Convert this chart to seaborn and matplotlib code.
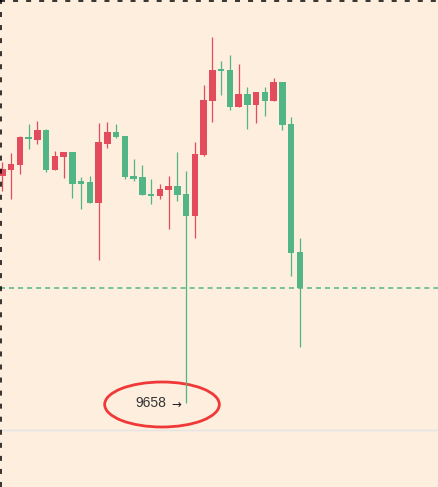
import matplotlib
matplotlib.use("Agg")
import matplotlib.pyplot as plt
import seaborn as sns
import numpy as np
from matplotlib.patches import Ellipse
from matplotlib.lines import Line2D

# OHLC (red = up, green = down)
opens = [9885, 9891, 9896, 9924, 9921, 9931, 9891, 9904, 9909, 9880,
         9879, 9858, 9917, 9929, 9925, 9885, 9884, 9867, 9865, 9871,
         9875, 9867, 9845, 9906, 9960, 9992, 9991, 9954, 9967, 9956,
         9969, 9960, 9979, 9937, 9809]
highs = [9899, 9908, 9925, 9937, 9940, 9932, 9910, 9909, 9909, 9884,
         9885, 9938, 9939, 9937, 9925, 9902, 9896, 9882, 9877, 9885,
         9909, 9890, 9919, 9976, 10024, 10000, 10006, 9997, 9974, 9969,
         9974, 9983, 9979, 9944, 9823]
lows = [9870, 9862, 9887, 9912, 9917, 9889, 9891, 9883, 9863, 9852,
        9858, 9801, 9913, 9923, 9882, 9880, 9866, 9857, 9862, 9832,
        9860, 9658, 9823, 9905, 9939, 9966, 9951, 9954, 9932, 9938,
        9945, 9960, 9931, 9785, 9714]
closes = [9892, 9897, 9924, 9922, 9931, 9891, 9905, 9909, 9877, 9877,
          9858, 9919, 9929, 9924, 9884, 9882, 9866, 9865, 9872, 9875,
          9866, 9845, 9907, 9961, 9991, 9990, 9954, 9967, 9956, 9969,
          9960, 9979, 9936, 9808, 9773]

BG = "#fdeedd"
UP = "#e34c5c"
DOWN = "#52b586"

sns.set_style("white", {"axes.facecolor": BG, "figure.facecolor": BG})
plt.rcParams["font.family"] = ["Liberation Sans", "DejaVu Sans"]
plt.rcParams["lines.scale_dashes"] = False

fig = plt.figure(figsize=(4.39, 4.87), dpi=100)
ax = fig.add_axes([0, 57 / 487, 1, 430 / 487])

x = np.arange(len(opens))
o, h, l, c = map(np.array, (opens, highs, lows, closes))
colors = np.where(c >= o, UP, DOWN)

ax.vlines(x, l, h, colors=colors, linewidth=0.9)
ax.bar(x, np.abs(c - o), bottom=np.minimum(o, c), width=0.74,
       color=colors, linewidth=0)

# last price line
ax.axhline(closes[-1], color=DOWN, lw=1.1, linestyle=(0, (3.6, 2.9)))

# lowest low marker
idx = int(np.argmin(l))
ax.text(idx - 2.3, l[idx], f"{l[idx]:.0f}", ha="right", va="center",
        fontsize=10, color="#333333")
ax.text(idx - 0.55, l[idx] - 1, "→", ha="right", va="center",
        fontsize=8.5, color="#222222", family="DejaVu Sans")
ax.add_patch(Ellipse((idx - 2.75, l[idx] - 1.5), width=13.1, height=45,
                     fill=False, edgecolor="#f03838", lw=2))

ax.set_xlim(-0.26, 49.9)
ax.set_ylim(9631, 10061)
ax.set_xticks([])
ax.set_yticks([])
for side in ["top", "left", "right"]:
    ax.spines[side].set_visible(False)
ax.spines["bottom"].set_color("#e3e3e8")
ax.spines["bottom"].set_linewidth(1)

# dashed border on the left and top of the image
fig.add_artist(Line2D([0.6 / 439] * 2, [0, 1], transform=fig.transFigure,
                      color="black", lw=1.1, linestyle=(0, (3.6, 5.8))))
fig.add_artist(Line2D([0, 1], [1 - 0.5 / 487] * 2, transform=fig.transFigure,
                      color="black", lw=1.1, linestyle=(0, (3.6, 5.8))))

fig.savefig("out.png", dpi=100)
